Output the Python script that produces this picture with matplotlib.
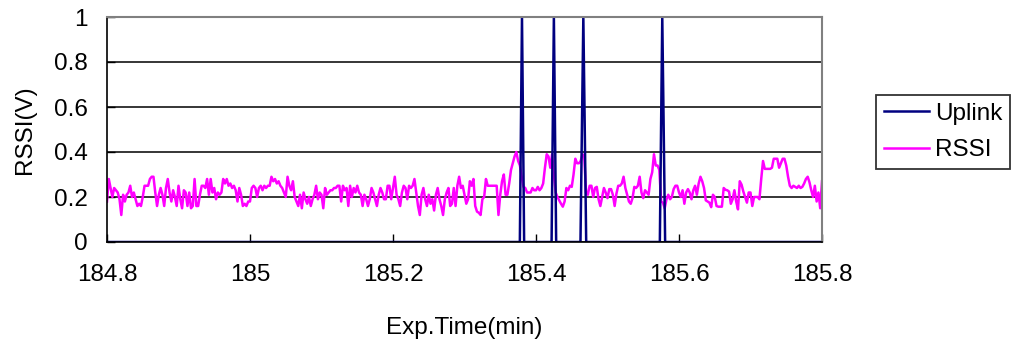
import matplotlib
matplotlib.use("Agg")
import matplotlib.pyplot as plt
import numpy as np

plt.rcParams['font.family'] = ['Liberation Sans', 'DejaVu Sans']

# RSSI samples, one every 0.0025 min starting at 184.8 min
rssi_start = 184.8
rssi_step = 0.0025
rssi = [
    # 184.800 - 184.963
    0.18, 0.28, 0.24, 0.20, 0.24, 0.23, 0.22, 0.19, 0.12, 0.21, 0.18, 0.21, 0.22, 0.25,
    0.20, 0.22, 0.19, 0.16, 0.17, 0.16, 0.20, 0.25, 0.25, 0.25, 0.28, 0.29, 0.29, 0.22,
    0.16, 0.21, 0.24, 0.21, 0.16, 0.24, 0.28, 0.22, 0.18, 0.23, 0.20, 0.16, 0.25, 0.19,
    0.15, 0.23, 0.22, 0.16, 0.22, 0.15, 0.16, 0.28, 0.16, 0.16, 0.21, 0.25, 0.25, 0.24,
    0.28, 0.21, 0.28, 0.22, 0.24, 0.19, 0.22, 0.21, 0.22, 0.28,
    # 184.965 - 185.133
    0.26, 0.28, 0.25, 0.26, 0.24, 0.25, 0.23, 0.18, 0.24, 0.21, 0.16, 0.17, 0.16, 0.18,
    0.18, 0.24, 0.25, 0.24, 0.20, 0.24, 0.25, 0.23, 0.25, 0.24, 0.25, 0.25, 0.29, 0.27,
    0.28, 0.26, 0.27, 0.25, 0.24, 0.22, 0.20, 0.29, 0.25, 0.23, 0.27, 0.20, 0.18, 0.16,
    0.21, 0.15, 0.22, 0.19, 0.17, 0.20, 0.16, 0.19, 0.21, 0.25, 0.19, 0.22, 0.21, 0.15,
    0.24, 0.21, 0.22, 0.23, 0.23, 0.24, 0.24, 0.25, 0.25, 0.18, 0.25, 0.23,
    # 185.135 - 185.300
    0.24, 0.16, 0.25, 0.20, 0.24, 0.22, 0.25, 0.22, 0.21, 0.16, 0.21, 0.19, 0.16, 0.19,
    0.24, 0.22, 0.19, 0.16, 0.21, 0.24, 0.22, 0.19, 0.19, 0.25, 0.25, 0.19, 0.24, 0.29,
    0.21, 0.19, 0.16, 0.22, 0.25, 0.24, 0.19, 0.25, 0.24, 0.25, 0.28, 0.22, 0.16, 0.12,
    0.21, 0.24, 0.19, 0.16, 0.21, 0.17, 0.19, 0.14, 0.21, 0.24, 0.19, 0.16, 0.12, 0.19,
    0.22, 0.24, 0.16, 0.17, 0.24, 0.16, 0.25, 0.29, 0.24, 0.25, 0.21,
    # 185.303 - 185.468
    0.17, 0.19, 0.27, 0.25, 0.28, 0.16, 0.135, 0.13, 0.12, 0.19, 0.20, 0.28, 0.25, 0.25,
    0.25, 0.25, 0.25, 0.25, 0.12, 0.21, 0.27, 0.30, 0.21, 0.21, 0.26, 0.32, 0.35, 0.38,
    0.40, 0.36, 0.34, 0.29, 0.245, 0.24, 0.22, 0.22, 0.22, 0.24, 0.23, 0.23, 0.245, 0.23,
    0.24, 0.26, 0.33, 0.39, 0.38, 0.33, 0.39, 0.30, 0.22, 0.20, 0.185, 0.17, 0.157, 0.18,
    0.24, 0.23, 0.25, 0.245, 0.30, 0.37, 0.35, 0.35, 0.36, 0.39, 0.38,
    # 185.470 - 185.635
    0.22, 0.21, 0.25, 0.25, 0.20, 0.24, 0.245, 0.19, 0.16, 0.20, 0.24, 0.22, 0.195, 0.235,
    0.235, 0.21, 0.16, 0.215, 0.25, 0.25, 0.26, 0.29, 0.24, 0.21, 0.18, 0.17, 0.195, 0.245,
    0.24, 0.25, 0.29, 0.22, 0.195, 0.23, 0.22, 0.21, 0.28, 0.31, 0.39, 0.34, 0.34, 0.32,
    0.18, 0.175, 0.15, 0.19, 0.21, 0.19, 0.20, 0.235, 0.25, 0.25, 0.22, 0.20, 0.23, 0.17,
    0.22, 0.235, 0.22, 0.19, 0.23, 0.25, 0.21, 0.26, 0.29, 0.27, 0.24,
    # 185.638 - 185.800
    0.185, 0.18, 0.175, 0.155, 0.21, 0.20, 0.16, 0.157, 0.157, 0.157, 0.24, 0.232, 0.23, 0.224,
    0.17, 0.19, 0.23, 0.18, 0.145, 0.27, 0.255, 0.224, 0.20, 0.175, 0.22, 0.22, 0.16, 0.20,
    0.20, 0.20, 0.19, 0.28, 0.36, 0.325, 0.325, 0.325, 0.325, 0.33, 0.37, 0.37, 0.37, 0.33,
    0.35, 0.37, 0.37, 0.34, 0.29, 0.25, 0.24, 0.25, 0.245, 0.24, 0.25, 0.24, 0.245, 0.26,
    0.28, 0.29, 0.265, 0.23, 0.20, 0.25, 0.18, 0.22, 0.15, 0.27,
]
rssi_time = rssi_start + rssi_step * np.arange(len(rssi))

# Uplink state (0 = idle, 1 = transmitting)
uplink_time = [184.8, 185.3774, 185.3804, 185.3834, 185.4218, 185.4250, 185.4282,
               185.4622, 185.4662, 185.4702, 185.5732, 185.5766, 185.5806, 185.8]
uplink = [0, 0, 1, 0, 0, 1, 0, 0, 1, 0, 0, 1, 0, 0]

x_ticks = [184.8, 185.0, 185.2, 185.4, 185.6, 185.8]
x_tick_labels = ['184.8', '185', '185.2', '185.4', '185.6', '185.8']
y_ticks = [0, 0.2, 0.4, 0.6, 0.8, 1.0]
y_tick_labels = ['0', '0.2', '0.4', '0.6', '0.8', '1']

fs = 17.5
fig = plt.figure(figsize=(10.2, 3.46), dpi=100)
ax = fig.add_axes([107 / 1020, 1 - 242 / 346, 715 / 1020, 225 / 346])

ax.plot(rssi_time, rssi, color='#FF00FF', lw=1.8, zorder=2.1, label='RSSI')
ax.plot(uplink_time, uplink, color='#000080', lw=1.8, zorder=2.2, label='Uplink')

ax.set_xlim(184.8, 185.8)
ax.set_ylim(0, 1)
ax.set_xticks(x_ticks)
ax.set_xticklabels(x_tick_labels)
ax.set_yticks(y_ticks)
ax.set_yticklabels(y_tick_labels)
ax.tick_params(axis='both', direction='in', length=6, width=1, labelsize=fs)
ax.tick_params(axis='x', pad=16)
ax.tick_params(axis='y', pad=14)

ax.yaxis.grid(True, color='black', lw=1.1)
ax.set_axisbelow(True)
for side in ('left', 'bottom'):
    ax.spines[side].set_color('black')
    ax.spines[side].set_linewidth(1.2)
for side in ('top', 'right'):
    ax.spines[side].set_color('#808080')
    ax.spines[side].set_linewidth(1.5)

ax.set_xlabel('Exp.Time(min)', fontsize=fs, labelpad=22)
ax.set_ylabel('RSSI(V)', fontsize=fs, labelpad=13)

handles, labels = ax.get_legend_handles_labels()
order = [1, 0]
leg = fig.legend([handles[i] for i in order], [labels[i] for i in order],
                 loc='upper left', bbox_to_anchor=(876 / 1020, 1 - 95 / 346),
                 borderaxespad=0, fontsize=fs, frameon=True, fancybox=False,
                 edgecolor='black', handlelength=1.85, handletextpad=0.25,
                 borderpad=0.32, labelspacing=0.6)
leg.get_frame().set_linewidth(1.3)

fig.savefig('out.png', dpi=100)
